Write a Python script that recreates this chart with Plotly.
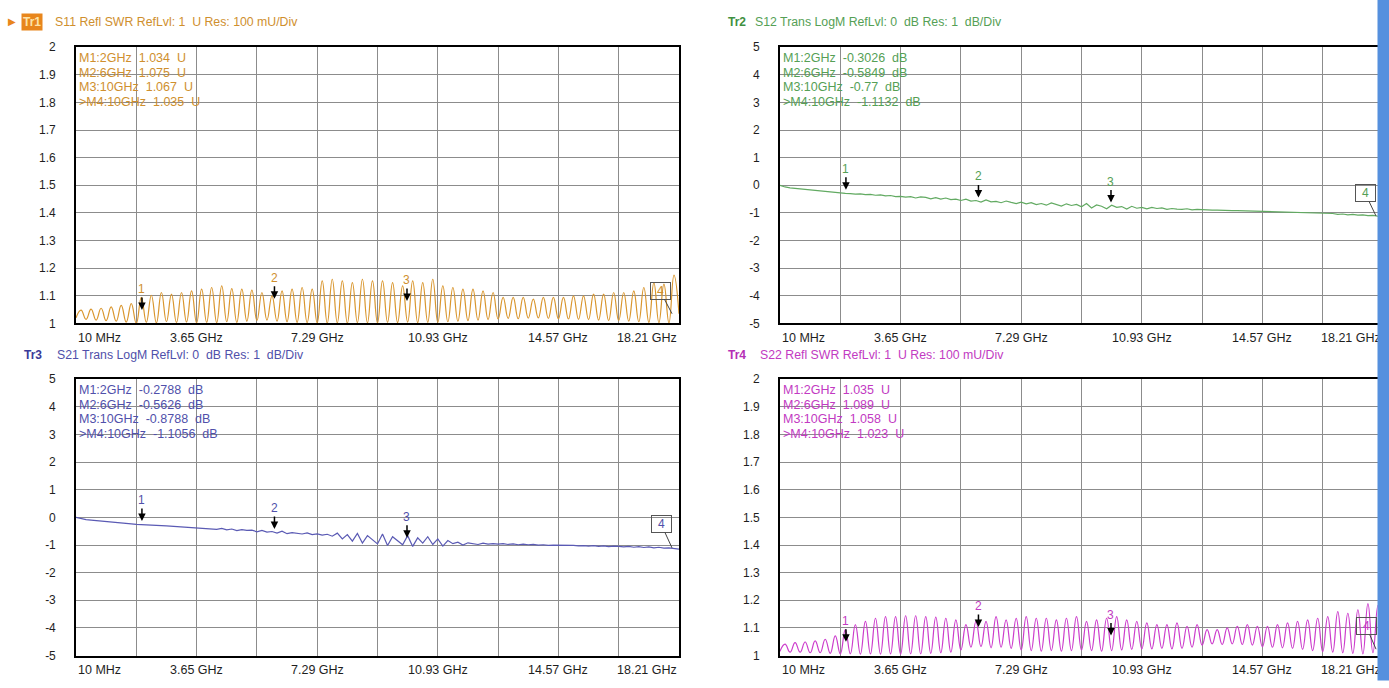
import numpy as np
import plotly.graph_objects as go

W, H = 1389, 688
F_START, F_STOP = 0.01, 18.21          # sweep, GHz
freq = np.linspace(F_START, F_STOP, 121)  # linear sweep points

grid_freqs = [0.01, 1.83, 3.65, 5.47, 7.29, 9.11, 10.93, 12.75, 14.57, 16.39, 18.21]
x_label_freqs = [0.01, 3.65, 7.29, 10.93, 14.57, 18.21]
x_labels = ["10 MHz", "3.65 GHz", "7.29 GHz", "10.93 GHz", "14.57 GHz", "18.21 GHz"]

swr_ticks = [1.0, 1.1, 1.2, 1.3, 1.4, 1.5, 1.6, 1.7, 1.8, 1.9, 2.0]
swr_tick_text = ["1", "1.1", "1.2", "1.3", "1.4", "1.5", "1.6", "1.7", "1.8", "1.9", "2"]
db_ticks = [-5, -4, -3, -2, -1, 0, 1, 2, 3, 4, 5]
db_tick_text = ["-5", "-4", "-3", "-2", "-1", "0", "1", "2", "3", "4", "5"]

s11 = [1.020, 1.048, 1.015, 1.052, 1.012, 1.055, 1.010, 1.060, 1.008, 1.065, 1.005, 1.072,
       1.000, 1.094, 1.004, 1.102, 1.002, 1.112, 1.006, 1.106, 1.003, 1.112, 1.005, 1.118,
       1.002, 1.124, 1.004, 1.130, 1.003, 1.136, 1.006, 1.126, 1.004, 1.124, 1.008, 1.121,
       1.010, 1.112, 1.012, 1.100, 1.008, 1.118, 1.006, 1.124, 1.004, 1.130, 1.003, 1.124,
       1.002, 1.154, 1.001, 1.160, 1.002, 1.154, 1.001, 1.148, 1.003, 1.160, 1.002, 1.154,
       1.002, 1.154, 1.004, 1.148, 1.003, 1.136, 1.005, 1.154, 1.003, 1.148, 1.004, 1.160,
       1.004, 1.136, 1.006, 1.130, 1.008, 1.124, 1.010, 1.124, 1.012, 1.118, 1.014, 1.112,
       1.016, 1.094, 1.018, 1.094, 1.017, 1.094, 1.019, 1.088, 1.020, 1.094, 1.018, 1.094,
       1.017, 1.094, 1.016, 1.100, 1.015, 1.100, 1.014, 1.106, 1.012, 1.106, 1.010, 1.112,
       1.010, 1.112, 1.008, 1.118, 1.006, 1.130, 1.004, 1.148, 1.003, 1.142, 1.002, 1.175,
       1.035]

s12 = [0.0, -0.06, -0.09, -0.11, -0.13, -0.15, -0.17, -0.19, -0.205, -0.225, -0.24, -0.26,
       -0.275, -0.295, -0.30, -0.32, -0.31, -0.34, -0.33, -0.36, -0.35, -0.38, -0.37, -0.41,
       -0.40, -0.43, -0.41, -0.46, -0.42, -0.44, -0.49, -0.45, -0.50, -0.46, -0.52, -0.50,
       -0.55, -0.50, -0.57, -0.55, -0.61, -0.53, -0.60, -0.58, -0.63, -0.57, -0.62, -0.66,
       -0.61, -0.67, -0.63, -0.70, -0.66, -0.72, -0.64, -0.70, -0.75, -0.67, -0.73, -0.69,
       -0.78, -0.66, -0.82, -0.71, -0.76, -0.85, -0.72, -0.80, -0.77, -0.86, -0.76, -0.83,
       -0.80, -0.85, -0.80, -0.84, -0.82, -0.87, -0.84, -0.86, -0.87, -0.85, -0.89, -0.87,
       -0.885, -0.89, -0.90, -0.895, -0.91, -0.905, -0.915, -0.92, -0.925, -0.93, -0.935, -0.94,
       -0.945, -0.95, -0.955, -0.96, -0.97, -0.975, -0.98, -0.985, -0.99, -1.0, -1.005, -1.01,
       -1.02, -1.03, -1.02, -1.05, -1.04, -1.07, -1.05, -1.08, -1.07, -1.10, -1.09, -1.12,
       -1.11]

s21 = [0.0, -0.05, -0.08, -0.10, -0.12, -0.14, -0.16, -0.175, -0.19, -0.205, -0.22, -0.235,
       -0.25, -0.265, -0.275, -0.28, -0.29, -0.30, -0.31, -0.32, -0.33, -0.34, -0.35, -0.365,
       -0.375, -0.38, -0.39, -0.40, -0.43, -0.40, -0.45, -0.42, -0.48, -0.44, -0.47, -0.46,
       -0.52, -0.47, -0.53, -0.51, -0.57, -0.50, -0.59, -0.55, -0.58, -0.60, -0.56, -0.62,
       -0.60, -0.64, -0.61, -0.68, -0.57, -0.78, -0.62, -0.86, -0.58, -0.93, -0.66, -0.80,
       -0.96, -0.60, -1.02, -0.70, -0.84, -0.99, -0.66, -1.05, -0.74, -0.93, -0.70, -0.98,
       -0.78, -1.04, -0.84, -0.95, -0.90, -1.0, -0.92, -0.96, -0.98, -0.93, -0.97, -0.95,
       -0.97, -0.95, -0.98, -0.96, -0.99, -0.97, -0.99, -0.98, -1.0, -0.99, -1.01, -1.0,
       -1.0, -1.01, -1.02, -1.01, -1.03, -1.02, -1.04, -1.02, -1.05, -1.03, -1.06, -1.04,
       -1.05, -1.07, -1.05, -1.08, -1.06, -1.09, -1.07, -1.10, -1.08, -1.11, -1.10, -1.13,
       -1.15]

s22 = [1.015, 1.041, 1.012, 1.047, 1.012, 1.049, 1.010, 1.053, 1.010, 1.059, 1.008, 1.071,
       1.006, 1.094, 1.006, 1.112, 1.005, 1.124, 1.006, 1.135, 1.005, 1.141, 1.006, 1.141,
       1.005, 1.144, 1.006, 1.144, 1.006, 1.141, 1.008, 1.139, 1.010, 1.135, 1.012, 1.129,
       1.020, 1.112, 1.030, 1.124, 1.032, 1.124, 1.028, 1.141, 1.030, 1.129, 1.026, 1.135,
       1.020, 1.141, 1.018, 1.135, 1.016, 1.135, 1.018, 1.129, 1.016, 1.135, 1.018, 1.141,
       1.020, 1.124, 1.018, 1.129, 1.016, 1.135, 1.018, 1.141, 1.020, 1.129, 1.022, 1.124,
       1.024, 1.118, 1.024, 1.112, 1.026, 1.112, 1.024, 1.118, 1.026, 1.106, 1.030, 1.112,
       1.038, 1.094, 1.042, 1.094, 1.040, 1.100, 1.042, 1.106, 1.040, 1.112, 1.038, 1.106,
       1.032, 1.106, 1.030, 1.112, 1.028, 1.118, 1.026, 1.124, 1.022, 1.129, 1.018, 1.135,
       1.014, 1.141, 1.012, 1.159, 1.010, 1.153, 1.008, 1.165, 1.006, 1.188, 1.010, 1.182,
       1.023]

marker_freqs = [2, 6, 10, 18]
marker_ids = ["1", "2", "3", "4"]
marker_names = ["M1:2GHz", "M2:6GHz", "M3:10GHz", ">M4:10GHz"]
s11_mk = [1.034, 1.075, 1.067, 1.035]
s12_mk = [-0.3026, -0.5849, -0.77, -1.1132]
s21_mk = [-0.2788, -0.5626, -0.8788, -1.1056]
s22_mk = [1.035, 1.089, 1.058, 1.023]

FONT = "Liberation Sans, Arial, DejaVu Sans, sans-serif"
NB = "\u00a0"
GRID = "#8c8c8c"

panels = [
    dict(px_x=(76, 679), px_y=(41, 323), yr=(1, 2), tv=swr_ticks, tt=swr_tick_text, y=s11, mk=s11_mk,
         unit="U", line="#d9962e", txt="#cf8f2e", tr="Tr1", trcol="#fde3a8",
         title="S11 Refl SWR RefLvl: 1" + NB + NB + "U Res: 100 mU/Div", title_y=15, tr_x=21, title_x=53,
         spline=True, ref=1.0, sweep=7.1, box=(-12, -23), ref_right=True),
    dict(px_x=(780, 1383), px_y=(41, 323), yr=(-5, 5), tv=db_ticks, tt=db_tick_text, y=s12, mk=s12_mk,
         unit="dB", line="#62aa62", txt="#55a055", tr="Tr2", trcol="#3f903f",
         title="S12 Trans LogM RefLvl: 0" + NB + NB + "dB Res: 1" + NB + NB + "dB/Div", title_y=15, tr_x=726, title_x=753,
         spline=False, ref=0.0, sweep=7.1, box=(-11, -23), ref_right=False),
    dict(px_x=(76, 679), px_y=(380, 662), yr=(-5, 5), tv=db_ticks, tt=db_tick_text, y=s21, mk=s21_mk,
         unit="dB", line="#5a5ab4", txt="#5050aa", tr="Tr3", trcol="#3a3a98",
         title="S21 Trans LogM RefLvl: 0" + NB + NB + "dB Res: 1" + NB + NB + "dB/Div", title_y=355, tr_x=22, title_x=55,
         spline=False, ref=0.0, sweep=6.1, box=(-11, -24), ref_right=True),
    dict(px_x=(780, 1383), px_y=(380, 662), yr=(1, 2), tv=swr_ticks, tt=swr_tick_text, y=s22, mk=s22_mk,
         unit="U", line="#cc3ccc", txt="#c23ac2", tr="Tr4", trcol="#b52fb5",
         title="S22 Refl SWR RefLvl: 1" + NB + NB + "U Res: 100 mU/Div", title_y=355, tr_x=726, title_x=758,
         spline=True, ref=1.0, sweep=7.1, box=(-10, -23), ref_right=False),
]

fig = go.Figure()
annotations = []
layout_axes = {}

for k, p in enumerate(panels, start=1):
    s = "" if k == 1 else str(k)
    xr, yr_ = f"x{s}", f"y{s}"
    x0, x1 = p["px_x"]
    y0, y1 = p["px_y"]
    dx = (F_STOP - F_START) / (x1 - x0)
    dy = (p["yr"][1] - p["yr"][0]) / (y1 - y0)

    layout_axes[f"xaxis{s}"] = dict(
        domain=[x0 / W, x1 / W], range=[F_START, F_STOP], tickvals=grid_freqs,
        showticklabels=False, ticks="", showgrid=True, gridcolor=GRID, gridwidth=1.3,
        showline=True, mirror=True, linecolor="black", linewidth=1.6, zeroline=False,
        anchor=yr_, fixedrange=True)
    layout_axes[f"yaxis{s}"] = dict(
        domain=[1 - y1 / H, 1 - y0 / H], range=list(p["yr"]), tickvals=p["tv"], ticktext=p["tt"],
        ticks="outside", ticklen=16, tickcolor="rgba(0,0,0,0)", tickfont=dict(size=12, color="#1e1e1e", family=FONT),
        showgrid=True, gridcolor=GRID, gridwidth=1.3, showline=True, mirror=True, linecolor="black",
        linewidth=1.6, zeroline=False, anchor=xr, fixedrange=True)

    # trace
    line = dict(color=p["line"], width=1.2)
    if p["spline"]:
        line.update(shape="spline", smoothing=1.3)
    fig.add_trace(go.Scatter(x=freq, y=p["y"], mode="lines", line=line, xaxis=xr, yaxis=yr_,
                             hoverinfo="skip", showlegend=False))

    # marker triangles under the axis
    below = p["yr"][0] - 5 * dy
    fig.add_trace(go.Scatter(x=marker_freqs, y=[below] * len(marker_freqs), mode="markers",
                             marker=dict(symbol="triangle-up", size=9, color="black"),
                             xaxis=xr, yaxis=yr_, cliponaxis=False, hoverinfo="skip", showlegend=False))
    # sweep indicator dash
    fig.add_trace(go.Scatter(x=[p["sweep"]], y=[p["yr"][0] - 2 * dy], mode="markers",
                             marker=dict(symbol="line-ew-open", size=13, line=dict(color="#6e6e6e", width=2)),
                             xaxis=xr, yaxis=yr_, cliponaxis=False, hoverinfo="skip", showlegend=False))
    # reference level triangles
    rx = [F_START - 6 * dx]
    rs = ["triangle-right"]
    if p["ref_right"]:
        rx.append(F_STOP + 6 * dx)
        rs.append("triangle-left")
    fig.add_trace(go.Scatter(x=rx, y=[p["ref"]] * len(rx), mode="markers",
                             marker=dict(symbol=rs, size=10, color=p["line"]),
                             xaxis=xr, yaxis=yr_, cliponaxis=False, hoverinfo="skip", showlegend=False))

    # x labels
    for i, (f, lab) in enumerate(zip(x_label_freqs, x_labels)):
        anchor = "left" if i == 0 else ("right" if i == len(x_labels) - 1 else "center")
        annotations.append(dict(x=f, y=1 - (y1 + 15) / H, xref=xr, yref="paper", text=lab,
                                xanchor=anchor, yanchor="middle", showarrow=False,
                                font=dict(size=12.5, color="#1e1e1e", family=FONT)))

    # marker readouts
    for j, (nm, v) in enumerate(zip(marker_names, p["mk"])):
        annotations.append(dict(x=(x0 + 1) / W, y=1 - (y0 + 11 + 15 * j) / H, xref="paper", yref="paper",
                                text=f"{nm}{NB}{NB}{v}{NB}{NB}{p['unit']}", xanchor="left", yanchor="middle",
                                showarrow=False, font=dict(size=12.5, color=p["txt"], family=FONT)))

    # marker arrows
    for j in range(3):
        annotations.append(dict(x=marker_freqs[j], y=p["mk"][j], xref=xr, yref=yr_, text=marker_ids[j],
                                showarrow=True, ax=0, ay=-25, arrowhead=2, arrowsize=1, arrowwidth=1.5,
                                arrowcolor="black", standoff=4,
                                font=dict(size=12, color=p["txt"], family=FONT)))
    # marker 4 box
    annotations.append(dict(x=marker_freqs[3], y=p["mk"][3], xref=xr, yref=yr_, text=marker_ids[3],
                            showarrow=True, ax=p["box"][0], ay=p["box"][1], arrowhead=0, arrowwidth=1,
                            arrowcolor="#444", bordercolor="#555", borderwidth=1, borderpad=1,
                            width=17, height=14, font=dict(size=12, color=p["txt"], family=FONT)))

    # title row
    ty = 1 - p["title_y"] / H
    if k == 1:
        annotations.append(dict(x=6 / W, y=ty, xref="paper", yref="paper", text="\u25B6", xanchor="left",
                                yanchor="middle", showarrow=False,
                                font=dict(size=10, color="#e8861c", family="DejaVu Sans")))
        annotations.append(dict(x=p["tr_x"] / W, y=ty, xref="paper", yref="paper", text="<b>Tr1</b>",
                                xanchor="left", yanchor="middle", showarrow=False, bgcolor="#e8861c",
                                borderpad=1, font=dict(size=12, color=p["trcol"], family=FONT)))
    else:
        annotations.append(dict(x=p["tr_x"] / W, y=ty, xref="paper", yref="paper", text=f"<b>{p['tr']}</b>",
                                xanchor="left", yanchor="middle", showarrow=False,
                                font=dict(size=12, color=p["trcol"], family=FONT)))
    annotations.append(dict(x=p["title_x"] / W, y=ty, xref="paper", yref="paper", text=p["title"],
                            xanchor="left", yanchor="middle", showarrow=False,
                            font=dict(size=12.3, color=p["txt"], family=FONT)))

# window border bar on the right edge (drawn last, on top)
annotations.append(dict(x=1377 / W, y=0, xref="paper", yref="paper", text=" ", xanchor="left",
                        yanchor="bottom", showarrow=False, width=12, height=H, borderpad=0,
                        bgcolor="#5590de"))

fig.update_layout(
    width=W, height=H, autosize=False,
    margin=dict(l=0, r=0, t=0, b=0),
    paper_bgcolor="white", plot_bgcolor="white",
    showlegend=False, hovermode=False,
    font=dict(family=FONT, size=12),
    annotations=annotations,
    **layout_axes,
)

fig.write_html("out.html", config={"displayModeBar": False},
               post_script="document.body.style.margin='0';document.body.style.overflow='hidden';")
